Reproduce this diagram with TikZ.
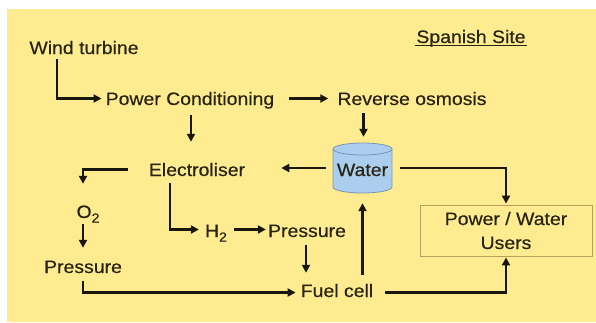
\documentclass[tikz,border=0pt]{standalone}
\usepackage{fontspec}
\setmainfont{Liberation Sans}[FakeStretch=1.08,FakeBold=0.5]
\usetikzlibrary{arrows.meta}
\definecolor{bg}{RGB}{255,236,145}
\definecolor{txt}{RGB}{40,36,18}
\definecolor{arrc}{RGB}{25,22,12}
\definecolor{boxc}{RGB}{185,160,95}
\definecolor{cylfill}{RGB}{172,206,238}
\definecolor{cyldraw}{RGB}{120,150,180}
\newcommand{\subtwo}{\raisebox{-4.5pt}{\fontsize{13}{13}\selectfont 2}}
\begin{document}
\begin{tikzpicture}[x=1pt,y=-1pt,
  lbl/.style={font=\fontsize{18}{22}\selectfont, text=txt, inner sep=1pt, text height=13pt, text depth=4pt, anchor=base},
  arr/.style={-{Triangle[length=8pt,width=8pt]}, line width=2.2pt, draw=arrc},
  usersbox/.style={draw=boxc, line width=0.9pt, minimum width=172pt, minimum height=51pt, inner sep=0pt},
  cylbox/.style={minimum width=59pt, minimum height=50pt, inner sep=0pt}]
\useasboundingbox (0,0) rectangle (596,322);
\fill[bg] (7,9) rectangle (596,322);

% nodes
\node[lbl] (wind) at (84,54) {Wind turbine};
\node[lbl] (sp) at (471,43) {Spanish Site};
\draw[txt, line width=0.9pt] ([yshift=-2.5pt]sp.base west) -- ([yshift=-2.5pt]sp.base east);
\node[lbl] (pc) at (190,105) {Power Conditioning};
\node[lbl] (ro) at (412,105) {Reverse osmosis};
\node[lbl] (el) at (197,176) {Electroliser};
\node[lbl] (o2) at (88,218) {O\subtwo};
\node[lbl] (pl) at (83,273) {Pressure};
\node[lbl] (h2) at (216,237) {H\subtwo};
\node[lbl] (pm) at (307,237) {Pressure};
\node[lbl] (fc) at (337,297) {Fuel cell};

% water cylinder
\node[cylbox] (water) at (362.5,168) {};
\filldraw[fill=cylfill, draw=cyldraw, line width=0.8pt]
  (333,149) -- (333,187) arc[start angle=180,end angle=360,x radius=29.5pt,y radius=6pt]
  -- (392,149) arc[start angle=0,end angle=180,x radius=29.5pt,y radius=6pt] -- cycle;
\draw[cyldraw, line width=0.8pt] (333,149) arc[start angle=180,end angle=360,x radius=29.5pt,y radius=6pt];
\node[lbl] (wt) at (362.5,176) {Water};

% users box
\node[usersbox] (users) at (506,230.5) {};
\node[lbl] (u1) at (506,225) {Power / Water};
\node[lbl] (u2) at (506,249) {Users};

% connectors
\draw[arr, shorten >=3pt] ([xshift=-27pt]wind.south) |- ([yshift=2pt]pc.west);
\draw[arr, shorten <=14pt, shorten >=8pt] ([yshift=2pt]pc.east) -- ([yshift=2pt]ro.west);
\draw[arr, shorten <=5pt, shorten >=20pt] ([xshift=1pt]pc.south) -- ([xshift=1pt]pc.south |- el.north);
\draw[arr, shorten <=3pt, shorten >=6pt] ([xshift=1pt]water.north |- ro.south) -- ([xshift=1pt]water.north);
\draw[arr, shorten <=7pt, shorten >=35pt] (water.west) -- (water.west -| el.east);
\draw[arr, shorten <=20pt, shorten >=20pt] ([yshift=2pt]el.west) -| ([xshift=-5pt]o2.north);
\draw[arr, shorten <=1pt, shorten >=11pt] ([xshift=-5pt]o2.south) -- ([xshift=-5pt]o2.south |- pl.north);
\draw[arr, shorten <=3pt, shorten >=4pt] (pl.south) |- (fc.west);
\draw[arr, shorten <=2pt, shorten >=5pt] ([xshift=-27pt]el.south) |- ([yshift=3pt]h2.west);
\draw[arr, shorten <=6pt, shorten >=1pt] ([yshift=3pt]h2.east) -- ([yshift=3pt]pm.west);
\draw[arr, shorten <=3pt, shorten >=10pt] ([xshift=-1pt]pm.south) -- ([xshift=-1pt]pm.south |- fc.north);
\draw[arr, shorten <=8pt, shorten >=10pt] (fc.north -| water.south) -- (water.south);
\draw[arr, shorten <=11pt, shorten >=1pt] (fc.east) -| (users.south);
\draw[arr, shorten <=8pt, shorten >=1pt] (water.east) -| (users.north);
\end{tikzpicture}
\end{document}
